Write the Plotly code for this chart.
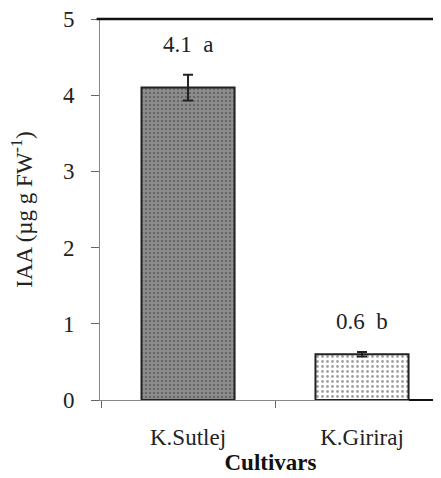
import plotly.graph_objects as go

cultivars = ["K.Sutlej", "K.Giriraj"]
iaa = [4.1, 0.6]
iaa_err = [0.17, 0.03]
letters = ["4.1  a", "0.6  b"]
y_ticks = [0, 1, 2, 3, 4, 5]

FONT = "Liberation Serif"

fig = go.Figure()
fig.add_trace(go.Bar(
    x=cultivars, y=iaa, width=0.535,
    marker=dict(
        color=["#8e8e8e", "#ffffff"],
        line=dict(color="#222222", width=2),
        pattern=dict(shape=[".", "."], fgcolor=["#3a3a3a", "#9a9a9a"],
                     bgcolor=["#8e8e8e", "#ffffff"], size=[4, 5], solidity=[0.35, 0.25]),
    ),
    error_y=dict(type="data", array=iaa_err, visible=True, color="#222222",
                 thickness=2, width=5),
    showlegend=False,
))

for c, v, e, t in zip(cultivars, iaa, iaa_err, letters):
    fig.add_annotation(x=c, y=v + e, text=t, showarrow=False, yshift=30,
                       font=dict(family=FONT, size=23, color="#222222"))

# top frame line and right part of the bottom line
fig.add_shape(type="line", xref="paper", yref="paper", x0=-0.01, x1=1, y0=1, y1=1,
              line=dict(color="#111111", width=2.5), layer="above")
fig.add_shape(type="line", xref="paper", yref="paper", x0=0.906, x1=1, y0=0, y1=0,
              line=dict(color="#111111", width=2), layer="above")

fig.update_layout(
    width=433, height=470,
    margin=dict(l=92, r=0, t=11, b=78),
    paper_bgcolor="white", plot_bgcolor="white",
    font=dict(family=FONT, color="#222222"),
    xaxis=dict(
        type="category", range=[-0.506, 1.454],
        showline=True, linecolor="#888888", linewidth=1,
        ticks="outside", tickson="boundaries", ticklen=7, tickcolor="#666666",
        ticklabelstandoff=16,
        tickfont=dict(family=FONT, size=23, color="#222222"),
        title=dict(text="<b>Cultivars</b>", font=dict(family=FONT, size=23, color="#111111"),
                   standoff=5),
        showgrid=False, zeroline=False,
    ),
    yaxis=dict(
        range=[0, 5], tickvals=y_ticks,
        showline=True, linecolor="#888888", linewidth=1,
        ticks="outside", ticklen=8, tickcolor="#666666",
        ticklabelstandoff=12, ticklabeloverflow="allow",
        tickfont=dict(family=FONT, size=23, color="#222222"),
        title=dict(text="IAA (µg g FW<sup>-1</sup>)",
                   font=dict(family=FONT, size=23, color="#222222"), standoff=26),
        showgrid=False, zeroline=False,
    ),
)

fig.write_html("out.html")
